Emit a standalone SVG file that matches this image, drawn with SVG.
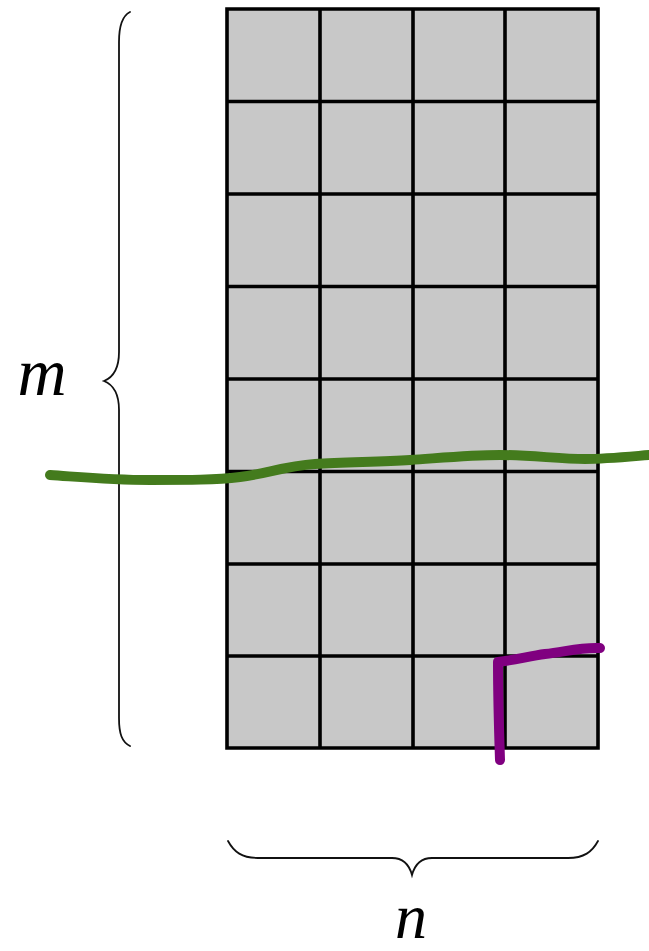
<svg xmlns="http://www.w3.org/2000/svg" width="649" height="951" viewBox="0 0 649 951">
<style>
.grid{stroke:#000;stroke-width:3.6;fill:none;stroke-linecap:square}
.brace{stroke:#111;stroke-width:1.8;fill:none;stroke-linecap:round}
.lbl{font-family:"Liberation Serif","DejaVu Serif",serif;font-style:italic;fill:#000}
.ink{fill:none;stroke-linecap:round;stroke-linejoin:round}
</style>
<rect width="649" height="951" fill="#fff"/>
<g id="grid">
<rect x="227" y="9" width="371" height="739" fill="#c8c8c8"/>
<path class="grid" d="M227 9H598V748H227Z M320 9V748 M413 9V748 M505 9V748 M227 101.5H598 M227 194H598 M227 286.5H598 M227 379H598 M227 471.5H598 M227 564H598 M227 656H598"/>
</g>
<g id="brace-m">
<path class="brace" d="M130 12 C122 16 119 26 119 42 V352 C119 368 114 377 104 381 C114 385 119 394 119 410 V718 C119 734 122 742 130 746"/>
</g>
<g id="label-m"><text class="lbl" x="42" y="395" font-size="68" text-anchor="middle">m</text></g>
<g id="brace-n">
<path class="brace" d="M228 841 C234 852 242 858 258 858 H392 C403 858 409 864 412 875 C415 864 421 858 432 858 H568 C584 858 592 852 598 841"/>
</g>
<g id="label-n"><text class="lbl" x="411" y="938" font-size="64" text-anchor="middle">n</text></g>
<g id="strokes">
<path class="ink" stroke="#447b1d" stroke-width="10" d="M50 475 C80 477 110 480 150 480 C190 480 215 480 240 477 C265 474 285 466 315 464 C345 462 380 462 410 460 C440 458 470 455 500 455 C530 455 560 459 585 459 C605 459 625 457 649 455"/>
<path class="ink" stroke="#800080" stroke-width="10" d="M500 760 C499 730 498 700 498 662 C515 660 530 656 545 654 C565 652 580 647 600 648"/>
</g>
</svg>
